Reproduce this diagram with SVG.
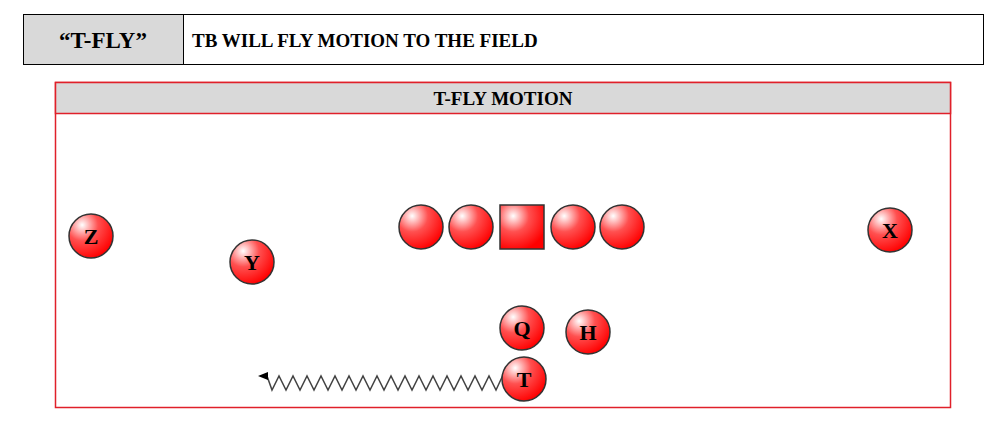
<svg xmlns="http://www.w3.org/2000/svg" width="1008" height="424" viewBox="0 0 1008 424">
<style>
.t{font-family:"Liberation Serif",serif;font-weight:bold;fill:#000}
.p circle,.p rect{fill:url(#g);stroke:#333;stroke-width:1.5}
.pl{font-family:"Liberation Serif",serif;font-weight:bold;font-size:22px;text-anchor:middle}
</style>
<defs>
<radialGradient id="g" cx="0.3" cy="0.25" r="0.8"><stop offset="0" stop-color="#fff"/><stop offset="0.45" stop-color="#ff5050"/><stop offset="1" stop-color="#f00"/></radialGradient>
<marker id="a" markerWidth="10" markerHeight="8" refX="2" refY="4" orient="auto" markerUnits="userSpaceOnUse"><path d="M0,0 L10,4 L0,8 Z" fill="#000"/></marker>
</defs>
<g id="header">
<rect x="23.5" y="14.5" width="960" height="50" fill="#fff" stroke="#000"/>
<rect x="23.5" y="14.5" width="160" height="50" fill="#d9d9d9" stroke="#000"/>
<text class="t" x="103" y="48" font-size="23" text-anchor="middle">“T-FLY”</text>
<text class="t" x="192" y="47" font-size="19">TB WILL FLY MOTION TO THE FIELD</text>
</g>
<g id="panel">
<rect x="55.5" y="82.5" width="895" height="325" fill="#fff" stroke="#e0202a" stroke-width="1.5"/>
<rect x="55.5" y="82.5" width="895" height="31" fill="#d9d9d9" stroke="#e0202a" stroke-width="1.5"/>
<text class="t" x="503" y="105" font-size="19" text-anchor="middle">T-FLY MOTION</text>
</g>
<g id="connectors">
<path d="M503,375 L496,390 L489,376 L482,390 L475,376 L468,390 L461,376 L454,390 L447,376 L440,390 L433,376 L426,390 L419,376 L412,390 L405,376 L398,390 L391,376 L384,390 L377,376 L370,390 L363,376 L356,390 L349,376 L342,390 L335,376 L328,390 L321,376 L314,390 L307,376 L300,390 L293,376 L286,390 L279,376 L272,390 L267,376 L266,376" fill="none" stroke="#444" stroke-width="1.5" marker-end="url(#a)"/>
</g>
<g class="p">
<g id="ol1"><circle cx="421" cy="227" r="22"/></g>
<g id="ol2"><circle cx="471" cy="227" r="22"/></g>
<g id="center"><rect x="500" y="205" width="44" height="44"/></g>
<g id="ol4"><circle cx="573" cy="227" r="22"/></g>
<g id="ol5"><circle cx="622" cy="227" r="22"/></g>
<g id="Z"><circle cx="91" cy="236" r="22"/><text class="pl" x="91" y="244">Z</text></g>
<g id="Y"><circle cx="252" cy="262" r="22"/><text class="pl" x="252" y="270">Y</text></g>
<g id="X"><circle cx="890" cy="230" r="22"/><text class="pl" x="890" y="238">X</text></g>
<g id="Q"><circle cx="522" cy="328" r="22"/><text class="pl" x="522" y="336">Q</text></g>
<g id="H"><circle cx="588" cy="332" r="22"/><text class="pl" x="588" y="340">H</text></g>
<g id="T"><circle cx="524" cy="379" r="22"/><text class="pl" x="524" y="387">T</text></g>
</g>
</svg>
